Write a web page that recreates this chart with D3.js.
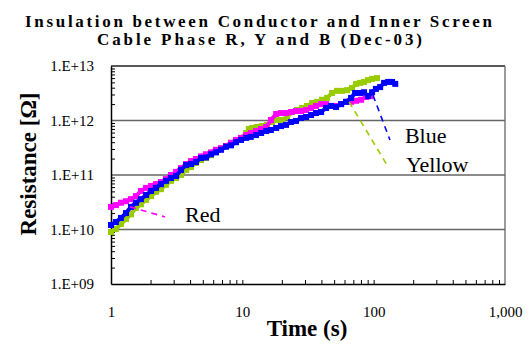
<!DOCTYPE html>
<html>
<head>
<meta charset="utf-8">
<script src="https://cdn.jsdelivr.net/npm/d3@7"></script>
<style>
  body { margin: 0; background: #fff; }
  svg { display: block; font-family: "Liberation Serif", "Times New Roman", serif; }
</style>
</head>
<body>
<div id="chart"></div>
<script>
// chart data
var titleLines = ["Insulation between Conductor and Inner Screen", "Cable Phase R, Y and B (Dec-03)"];
var xTicks = [1, 10, 100, 1000];
var xTickLabels = ["1", "10", "100", "1,000"];
var yTicks = [1e9, 1e10, 1e11, 1e12, 1e13];
var yTickLabels = ["1.E+09", "1.E+10", "1.E+11", "1.E+12", "1.E+13"];

var redTime = [1.00, 1.09, 1.19, 1.30, 1.42, 1.55, 1.69, 1.85, 2.02, 2.20, 2.40, 2.62, 2.86, 3.13, 3.41, 3.73, 4.07, 4.44, 4.85, 5.29,
  5.78, 6.30, 6.88, 7.51, 8.20, 8.95, 9.77, 10.7, 11.6, 12.7, 13.9, 15.2, 16.5, 18.1, 19.7, 21.5, 23.5, 25.6, 28.0, 30.6,
  33.4, 36.4, 39.8, 43.4, 47.4, 51.7, 56.5, 61.6, 67.3, 73.5, 80.2, 87.5, 95.5];
var redRes = [2.6e10, 2.8e10, 3.1e10, 3.3e10, 3.6e10, 4.1e10, 5.1e10, 5.8e10, 6.3e10, 6.8e10, 7.4e10, 8.4e10, 1.0e11, 1.14e11, 1.34e11, 1.59e11, 1.8e11, 1.97e11, 2.2e11, 2.4e11,
  2.6e11, 2.9e11, 3.1e11, 3.4e11, 3.9e11, 4.4e11, 4.8e11, 5.4e11, 5.9e11, 6.4e11, 7.0e11, 7.6e11, 1.02e12, 1.32e12, 1.37e12, 1.37e12, 1.43e12, 1.49e12, 1.49e12, 1.56e12,
  1.7e12, 1.85e12, 2.0e12, 2.0e12, 1.85e12, 1.85e12, 2.0e12, 2.2e12, 2.2e12, 2.3e12, 2.4e12, 2.7e12, 2.8e12];

var blueTime = [1.00, 1.09, 1.19, 1.30, 1.42, 1.55, 1.69, 1.85, 2.02, 2.20, 2.40, 2.62, 2.86, 3.13, 3.41, 3.73, 4.07, 4.44, 4.85, 5.29,
  5.78, 6.30, 6.88, 7.51, 8.20, 8.95, 9.77, 10.7, 11.6, 12.7, 13.9, 15.2, 16.5, 18.1, 19.7, 21.5, 23.5, 25.6, 28.0, 30.6,
  33.4, 36.4, 39.8, 43.4, 47.4, 51.7, 56.5, 61.6, 67.3, 72.2, 78.8, 84.5, 90.6, 97.3, 104, 112, 120, 129, 138, 146];
var blueRes = [1.21e10, 1.37e10, 1.63e10, 2.0e10, 2.6e10, 3.1e10, 3.6e10, 4.3e10, 5.1e10, 5.8e10, 6.8e10, 7.8e10, 8.8e10, 9.6e10, 1.24e11, 1.52e11, 1.59e11, 1.73e11, 2.05e11, 2.1e11,
  2.4e11, 2.6e11, 2.9e11, 3.3e11, 3.5e11, 4.0e11, 4.4e11, 4.8e11, 5.0e11, 5.4e11, 5.9e11, 6.4e11, 6.7e11, 7.3e11, 7.9e11, 8.3e11, 9.4e11, 9.8e11, 1.11e12, 1.16e12,
  1.26e12, 1.37e12, 1.43e12, 1.7e12, 1.85e12, 1.77e12, 2.0e12, 2.2e12, 2.6e12, 3.2e12, 3.2e12, 3.3e12, 2.8e12, 3.3e12, 3.8e12, 4.1e12, 4.9e12, 5.1e12, 5.1e12, 4.7e12];

var yellowTime = [1.00, 1.09, 1.19, 1.30, 1.42, 1.55, 1.69, 1.85, 2.02, 2.20, 2.40, 2.62, 2.86, 3.13, 3.41, 3.73, 4.07, 4.44, 4.85, 5.29,
  5.78, 6.30, 6.88, 7.51, 8.20, 8.95, 9.77, 10.7, 11.2, 11.9, 12.9, 14.1, 15.4, 16.8, 18.4, 20.1, 21.9, 23.9, 26.1, 28.5,
  31.1, 34.0, 37.1, 40.5, 44.2, 48.2, 52.6, 57.4, 62.7, 68.4, 73.5, 78.8, 84.5, 90.6, 97.3, 106];
var yellowRes = [9.0e9, 1.02e10, 1.26e10, 1.56e10, 1.9e10, 2.5e10, 2.9e10, 3.5e10, 4.1e10, 4.9e10, 5.5e10, 6.6e10, 7.8e10, 8.8e10, 1.0e11, 1.24e11, 1.40e11, 1.66e11, 1.88e11, 2.05e11,
  2.3e11, 2.75e11, 3.1e11, 3.4e11, 3.9e11, 4.2e11, 4.8e11, 5.9e11, 7.0e11, 7.3e11, 7.6e11, 7.9e11, 8.3e11, 9.4e11, 1.02e12, 1.02e12, 1.16e12, 1.43e12, 1.56e12, 1.7e12,
  1.85e12, 2.1e12, 2.2e12, 2.4e12, 2.6e12, 3.2e12, 3.5e12, 3.5e12, 3.6e12, 3.95e12, 4.7e12, 4.9e12, 5.1e12, 5.5e12, 5.8e12, 6.0e12];

// dashed leaders from curves to their names
var labelNames = ["Red", "Blue", "Yellow"];
var labelTime = [3.66, 173, 176];
var labelRes = [1.4e10, 3.8e11, 1.15e11];
var leaderTime = [[1.40, 2.58], [98.9, 133], [65, 129]];
var leaderRes = [[2.6e10, 1.7e10], [2.9e12, 4.4e11], [2.2e12, 1.4e11]];

var WIDTH = 530, HEIGHT = 345;
var colors = { red: "#ff00ff", blue: "#0000ff", yellow: "#99cc00" };

var svg = d3.select("#chart").append("svg")
  .attr("width", WIDTH)
  .attr("height", HEIGHT);

var x = d3.scaleLog().domain([1, 1000]).range([111, 505]);
var y = d3.scaleLog().domain([1e9, 1e13]).range([284, 66]);

// title
svg.selectAll("text.title")
  .data(titleLines)
  .enter()
  .append("text")
  .attr("class", "title")
  .attr("x", function(d, i) { return i === 0 ? 25 : 97; })
  .attr("y", function(d, i) { return i === 0 ? 27 : 45; })
  .attr("textLength", function(d, i) { return i === 0 ? 467 : 325; })
  .attr("lengthAdjust", "spacing")
  .style("font-size", "17px")
  .style("font-weight", "bold")
  .text(function(d) { return d; });

// gridlines and frame
svg.selectAll("line.grid")
  .data(yTicks.slice(1))
  .enter()
  .append("line")
  .attr("class", "grid")
  .attr("x1", x(1)).attr("x2", x(1000))
  .attr("y1", function(d) { return y(d); })
  .attr("y2", function(d) { return y(d); })
  .attr("stroke", function(d) { return d === 1e13 ? "#222" : "#666"; })
  .attr("stroke-width", 1.3);

svg.append("line")
  .attr("x1", x(1000)).attr("x2", x(1000))
  .attr("y1", y(1e13)).attr("y2", y(1e9))
  .attr("stroke", "#666")
  .attr("stroke-width", 1.3);

// minor ticks (inside)
var minorX = [], minorY = [];
[1, 10, 100].forEach(function(b) {
  for (var k = 2; k <= 9; k++) minorX.push(b * k);
});
[1e9, 1e10, 1e11, 1e12].forEach(function(b) {
  for (var k = 2; k <= 9; k++) minorY.push(b * k);
});

svg.append("g")
  .attr("transform", "translate(0," + y(1e9) + ")")
  .call(d3.axisBottom(x).tickValues(minorX.concat([10, 100])).tickSize(-4).tickFormat(""))
  .call(function(g) { g.select(".domain").remove(); });

svg.append("g")
  .attr("transform", "translate(" + x(1) + ",0)")
  .call(d3.axisLeft(y).tickValues(minorY).tickSize(-4).tickFormat(""))
  .call(function(g) { g.select(".domain").remove(); });

// x axis
var xAxis = svg.append("g")
  .attr("transform", "translate(0," + y(1e9) + ")")
  .call(d3.axisBottom(x).tickValues(xTicks).tickSize(0).tickPadding(22)
    .tickFormat(function(d, i) { return xTickLabels[i]; }));
xAxis.select(".domain").attr("stroke", "#000").attr("stroke-width", 1.5);
xAxis.selectAll("text")
  .style("font-family", "Liberation Serif")
  .style("font-size", "15px")
  .attr("fill", "#000");

// y axis
var yAxis = svg.append("g")
  .attr("transform", "translate(" + x(1) + ",0)")
  .call(d3.axisLeft(y).tickValues(yTicks).tickSize(0).tickPadding(17)
    .tickFormat(function(d, i) { return yTickLabels[i]; }));
yAxis.select(".domain").attr("stroke", "#000").attr("stroke-width", 1.5);
yAxis.selectAll("text")
  .style("font-family", "Liberation Serif")
  .style("font-size", "15px")
  .attr("fill", "#000");

// axis titles
svg.append("text")
  .attr("x", 307)
  .attr("y", 336)
  .attr("text-anchor", "middle")
  .style("font-size", "23px")
  .style("font-weight", "bold")
  .text("Time (s)");

svg.append("text")
  .attr("transform", "translate(36,164) rotate(-90)")
  .attr("text-anchor", "middle")
  .style("font-size", "23px")
  .style("font-weight", "bold")
  .text("Resistance [Ω]");

// series
var series = [
  { name: "yellow", data: d3.zip(yellowTime, yellowRes) },
  { name: "red", data: d3.zip(redTime, redRes) },
  { name: "blue", data: d3.zip(blueTime, blueRes) }
];

var line = d3.line()
  .x(function(d) { return x(d[0]); })
  .y(function(d) { return y(d[1]); });

series.forEach(function(s) {
  var g = svg.append("g");
  g.append("path")
    .datum(s.data)
    .attr("d", line)
    .attr("fill", "none")
    .attr("stroke", colors[s.name])
    .attr("stroke-width", 4)
    .attr("stroke-linejoin", "round");
  g.selectAll("rect")
    .data(s.data)
    .enter()
    .append("rect")
    .attr("x", function(d) { return x(d[0]) - 3; })
    .attr("y", function(d) { return y(d[1]) - 3; })
    .attr("width", 6)
    .attr("height", 6)
    .attr("fill", colors[s.name]);
});

// leaders + labels
var leaderColors = [colors.red, colors.blue, colors.yellow];
leaderTime.forEach(function(lt, i) {
  svg.append("line")
    .attr("x1", x(lt[0])).attr("y1", y(leaderRes[i][0]))
    .attr("x2", x(lt[1])).attr("y2", y(leaderRes[i][1]))
    .attr("stroke", leaderColors[i])
    .attr("stroke-width", 1.6)
    .attr("stroke-dasharray", "6,5");
});

svg.selectAll("text.lbl")
  .data(labelNames)
  .enter()
  .append("text")
  .attr("class", "lbl")
  .attr("x", function(d, i) { return x(labelTime[i]); })
  .attr("y", function(d, i) { return y(labelRes[i]); })
  .style("font-size", "22px")
  .text(function(d) { return d; });
</script>
</body>
</html>
